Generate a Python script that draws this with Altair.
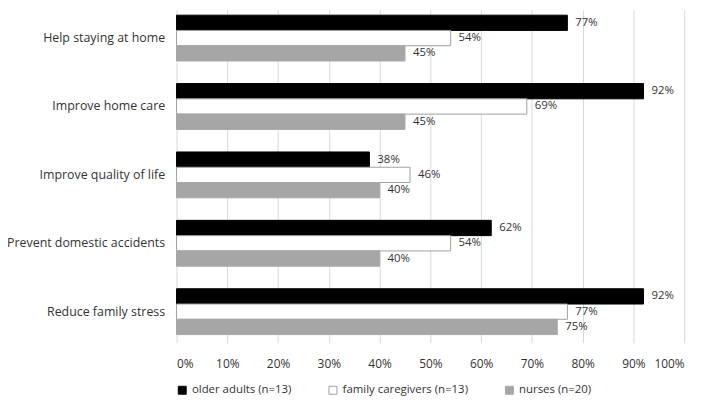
import altair as alt
import pandas as pd

categories = [
    "Help staying at home",
    "Improve home care",
    "Improve quality of life",
    "Prevent domestic accidents",
    "Reduce family stress",
]
series = ["older adults (n=13)", "family caregivers (n=13)", "nurses (n=20)"]
older_adults = [77, 92, 38, 62, 92]
family_caregivers = [54, 69, 46, 54, 77]
nurses = [45, 45, 40, 40, 75]
x_ticks = [0, 10, 20, 30, 40, 50, 60, 70, 80, 90, 100]

rows = []
for s, vals in zip(series, [older_adults, family_caregivers, nurses]):
    for c, v in zip(categories, vals):
        rows.append({"category": c, "series": s, "value": v, "label": f"{v}%"})
df = pd.DataFrame(rows)

FONT = "Open Sans"
TXT = "#333333"

legend_cfg = dict(title=None, orient="none", legendX=0, legendY=378,
                  direction="horizontal", symbolType="square", symbolSize=64,
                  symbolStrokeWidth=1, labelFont=FONT, labelFontSize=11.5,
                  labelColor=TXT, columnPadding=34, labelOffset=4)

y_enc = alt.Y(
    "category:N",
    sort=categories,
    title=None,
    scale=alt.Scale(paddingInner=0.33, paddingOuter=0.1, align=0.4),
    axis=alt.Axis(domain=False, ticks=False, grid=False, labelPadding=12,
                  labelFont=FONT, labelFontSize=12.5, labelColor=TXT, labelLimit=300),
)
yoff = alt.YOffset("series:N", sort=series)

base = alt.Chart(df)

bars = base.mark_bar(strokeWidth=1).encode(
    x=alt.X(
        "value:Q",
        title=None,
        scale=alt.Scale(domain=[0, 100], nice=False),
        axis=alt.Axis(values=x_ticks, labelExpr="datum.value + '%'", domain=False,
                      ticks=False, grid=True, gridColor="#d9d9d9", labelPadding=16,
                      labelFont=FONT, labelFontSize=12, labelColor=TXT),
    ),
    y=y_enc,
    yOffset=yoff,
    fill=alt.Fill(
        "series:N",
        sort=series,
        scale=alt.Scale(domain=series, range=["#000000", "#ffffff", "#a6a6a6"]),
        legend=alt.Legend(**legend_cfg),
    ),
    stroke=alt.Stroke(
        "series:N",
        sort=series,
        scale=alt.Scale(domain=series, range=["#000000", "#a0a0a0", "#a6a6a6"]),
        legend=alt.Legend(**legend_cfg),
    ),
)

labels = base.mark_text(align="left", baseline="middle", dx=8, font=FONT,
                        fontSize=11.5, color=TXT).encode(
    x="value:Q",
    y=alt.Y("category:N", sort=categories),
    yOffset=yoff,
    text="label:N",
)

chart = (
    alt.layer(bars, labels)
    .properties(
        width=512,
        height=336,
        autosize=alt.AutoSizeParams(type="none"),
        padding={"left": 170, "top": 0, "right": 16, "bottom": 56},
    )
    .configure_view(stroke=None)
    .configure_scale(offsetBandPaddingInner=0)
)

chart.save("out.html", embed_options={"renderer": "svg", "actions": False})
